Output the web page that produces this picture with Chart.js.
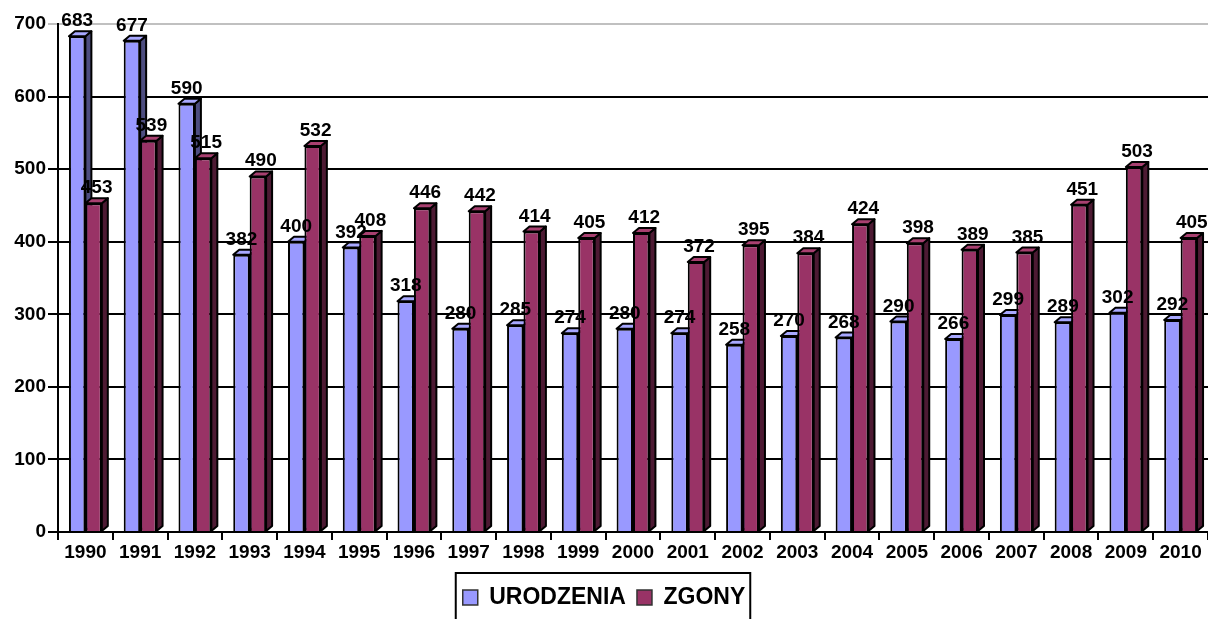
<!DOCTYPE html>
<html>
<head>
<meta charset="utf-8">
<script src="https://cdn.jsdelivr.net/npm/chart.js@4"></script>
<style>
  html, body { margin: 0; padding: 0; background: #fff; }
  #wrap { width: 1208px; height: 619px; }
</style>
</head>
<body>
<div id="wrap"><canvas id="myChart"></canvas></div>
<script>
const years = ["1990","1991","1992","1993","1994","1995","1996","1997","1998","1999","2000",
               "2001","2002","2003","2004","2005","2006","2007","2008","2009","2010"];
const urodzenia = [683, 677, 590, 382, 400, 392, 318, 280, 285, 274, 280,
                   274, 258, 270, 268, 290, 266, 299, 289, 302, 292];
const zgony = [453, 539, 515, 490, 532, 408, 446, 442, 414, 405, 412,
               372, 395, 384, 424, 398, 389, 385, 451, 503, 405];
const yTicks = [0, 100, 200, 300, 400, 500, 600, 700];

const FONT = "'Liberation Sans', Arial, sans-serif";
const DX = 6, DY = 5;

// top and side faces of the bars, drawn behind the fronts
const bars3d = {
    id: "bars3d",
    beforeDatasetsDraw(chart) {
        const ctx = chart.ctx;
        const faces = [
            { top: "#a8a8ff", side: "#4d4d80" },
            { top: "#a84070", side: "#4d1a33" }
        ];
        chart.data.datasets.forEach((ds, di) => {
            chart.getDatasetMeta(di).data.forEach(bar => {
                const l = bar.x - bar.width / 2, r = bar.x + bar.width / 2;
                const t = bar.y, b = bar.base;
                ctx.save();
                ctx.lineWidth = 2;
                ctx.lineJoin = "round";
                ctx.strokeStyle = "#000";
                ctx.beginPath();
                ctx.moveTo(r, t); ctx.lineTo(r + DX, t - DY); ctx.lineTo(r + DX, b - DY); ctx.lineTo(r, b);
                ctx.closePath();
                ctx.fillStyle = faces[di].side; ctx.fill(); ctx.stroke();
                ctx.beginPath();
                ctx.moveTo(l, t); ctx.lineTo(l + DX, t - DY); ctx.lineTo(r + DX, t - DY); ctx.lineTo(r, t);
                ctx.closePath();
                ctx.fillStyle = faces[di].top; ctx.fill(); ctx.stroke();
                ctx.restore();
            });
        });
    },
    afterDatasetsDraw(chart) {
        const ctx = chart.ctx;
        const shifts = [0, 3];
        ctx.save();
        ctx.font = "bold 19px " + FONT;
        ctx.fillStyle = "#000";
        ctx.textAlign = "center";
        ctx.textBaseline = "alphabetic";
        chart.data.datasets.forEach((ds, di) => {
            chart.getDatasetMeta(di).data.forEach((bar, i) => {
                ctx.fillText(String(ds.data[i]), bar.x + shifts[di], bar.y - 10);
            });
        });
        ctx.restore();
    },
    afterDraw(chart) {
        const lg = chart.legend;
        if (!lg || !lg.legendHitBoxes.length) return;
        const hb = lg.legendHitBoxes;
        const ctx = chart.ctx;
        ctx.save();
        ctx.strokeStyle = "#000";
        ctx.lineWidth = 2;
        const last = hb[hb.length - 1];
        const x0 = hb[0].left - 7, x1 = last.left + last.width + 5;
        ctx.strokeRect(x0, lg.top - 2, x1 - x0, 70);
        ctx.restore();
    }
};

new Chart("myChart", {
    type: "bar",
    data: {
        labels: years,
        datasets: [{
            label: "URODZENIA",
            data: urodzenia,
            backgroundColor: "#9999ff",
            borderColor: "#000",
            borderWidth: 2,
            categoryPercentage: 0.6,
            barPercentage: 1
        }, {
            label: "ZGONY",
            data: zgony,
            backgroundColor: "#993366",
            borderColor: "#000",
            borderWidth: 2,
            categoryPercentage: 0.6,
            barPercentage: 1
        }]
    },
    plugins: [bars3d],
    options: {
        responsive: true,
        maintainAspectRatio: false,
        animation: false,
        layout: { padding: { top: 24, left: 0, right: 0, bottom: 0 } },
        plugins: {
            tooltip: { enabled: false },
            legend: {
                position: "bottom",
                labels: {
                    color: "#000",
                    font: { family: FONT, size: 23, weight: "bold" },
                    boxWidth: 15,
                    boxHeight: 15,
                    padding: 11,
                    generateLabels(chart) {
                        return chart.data.datasets.map((ds, i) => ({
                            text: ds.label,
                            fillStyle: ds.backgroundColor,
                            strokeStyle: "#333",
                            lineWidth: 1.5,
                            datasetIndex: i
                        }));
                    }
                }
            }
        },
        scales: {
            x: {
                offset: true,
                grid: { offset: true, drawOnChartArea: false, color: "#000", lineWidth: 2, tickLength: 8 },
                border: { color: "#000", width: 2 },
                ticks: { color: "#000", font: { family: FONT, size: 19, weight: "bold" }, padding: 1, maxRotation: 0, autoSkip: false },
                afterFit(scale) { scale.height = 43; }
            },
            y: {
                min: 0,
                max: 700,
                afterBuildTicks(scale) { scale.ticks = yTicks.map(v => ({ value: v })); },
                grid: {
                    color: ctx => ctx.tick && ctx.tick.value === 700 ? "#c0c0c0" : "#000",
                    lineWidth: 2,
                    tickLength: 10
                },
                border: { color: "#000", width: 2 },
                ticks: { color: "#000", font: { family: FONT, size: 19, weight: "bold" }, padding: 2 },
                afterFit(scale) { scale.width = 58; }
            }
        }
    }
});
</script>
</body>
</html>
